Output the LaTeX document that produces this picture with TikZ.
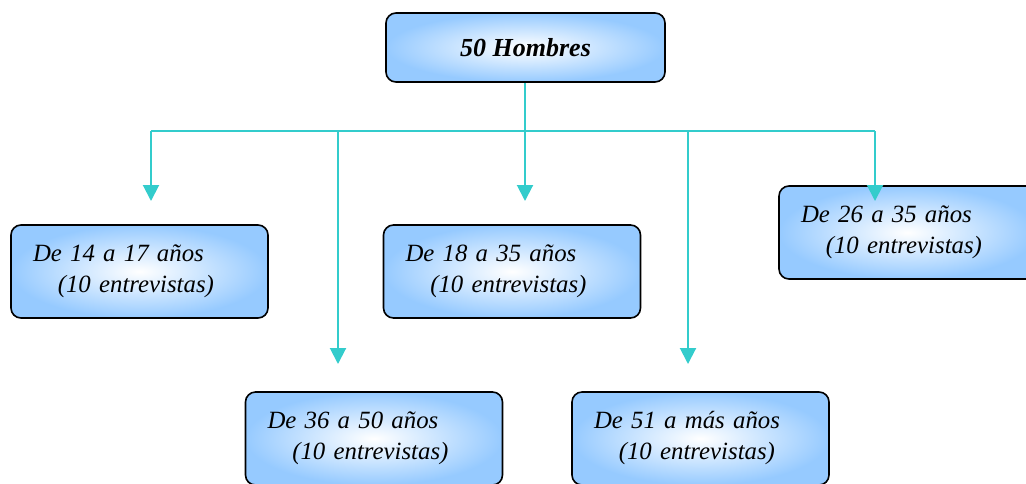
\documentclass[tikz,border=0pt]{standalone}
\usepackage{fontspec}
\setmainfont{Liberation Serif}
\usepackage{xcolor}
\usepackage{tikz}
\usetikzlibrary{arrows.meta,positioning,calc}
\definecolor{boxblue}{RGB}{150,202,255}
\definecolor{linkcol}{RGB}{51,204,204}

\begin{document}
\begin{tikzpicture}[x=0.5pt, y=-0.5pt,
  agebox/.style={draw=black, line width=0.8pt, rounded corners=5pt,
    inner color=white, outer color=boxblue,
    minimum width=128.5pt, minimum height=46.5pt, text width=106.5pt,
    inner xsep=11pt, align=left, font=\fontsize{12.4}{15.5}\selectfont\itshape},
  link/.style={draw=linkcol, line width=1pt},
  arr/.style={link, -{Triangle[width=8pt,length=8pt]}}]
\useasboundingbox (0,0) rectangle (1026,483);
\node[agebox, minimum width=139.5pt, minimum height=34.5pt, text width=, align=center,
  font=\fontsize{13}{15.5}\selectfont\bfseries\itshape] (top) at (525.5,47.5) {50 Hombres};
\node[agebox] (a) at (139.5,271.5) {De 14 a 17 años\\\hspace*{1em}(10 entrevistas)};
\node[agebox] (b) at (512,271.5) {De 18 a 35 años\\\hspace*{1em}(10 entrevistas)};
\node[agebox] (c) at (907.5,232.5) {De 26 a 35 años\\\hspace*{1em}(10 entrevistas)};
\node[agebox] (d) at (374,438.5) {De 36 a 50 años\\\hspace*{1em}(10 entrevistas)};
\node[agebox] (e) at (700.5,438.5) {De 51 a más años\\\hspace*{1em}(10 entrevistas)};
% bus
\coordinate (bus) at (525,131);
\coordinate (busl) at (151,131);
\coordinate (busr) at (875,131);
\draw[link] (top.south -| bus) -- (bus);
\draw[link] (busl) -- (busr);
\foreach \x/\y/\n in {151/201/ta, 338/364/td, 525/201/tb, 688/364/te, 875/201/tc}
  \coordinate (\n) at (\x,\y);
\draw[arr] (busl) -- (ta);
\draw[arr] (busl -| td) -- (td);
\draw[arr] (bus) -- (tb);
\draw[arr] (busl -| te) -- (te);
\draw[arr] (busr) -- (tc);
\end{tikzpicture}
\end{document}
